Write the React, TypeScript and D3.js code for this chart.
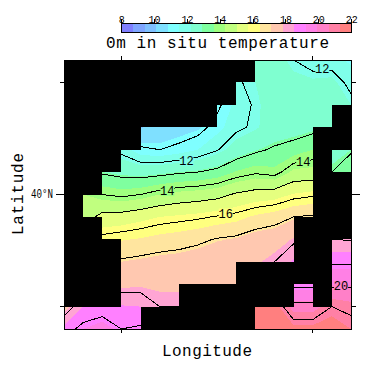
import React from "react";
import * as d3 from "d3";

const titleText = "0m in situ temperature";
const xLabel = "Longitude";
const yLabel = "Latitude";
const yTickText = "40°N";
const barTicks = [8, 10, 12, 14, 16, 18, 20, 22];
const levelStart = 8;
const levelStep = 0.7;
const bandColors = [
  "#7f7fff", "#7fa5ff", "#7fc0ff", "#7fe0ff", "#7fffff", "#7fffea", "#7fffd0", "#7fff9f", "#9fff7f", "#c0ff7f",
  "#e5ff7f", "#ffff7f", "#ffe59f", "#ffc8b0", "#ffa5d4", "#ff80ff", "#ff80e5", "#ff80c8", "#ff80a5", "#ff7f7f",
];
const lineLevels = [11, 12, 13, 14, 15, 16, 17, 18, 19, 20, 21];

// temperature at grid nodes, 13 rows north to south, 16 columns west to east
const temperature = [
  [10, 10, 10, 10, 10, 10, 10, 10, 10.5, 11.5, 12.4, 12.5, 12.0, 11.7, 11.7, 11.4],
  [10, 10, 10, 10, 10, 10, 10, 10, 10.5, 11.9, 12.2, 12.5, 12.4, 12.3, 12.35, 11.8],
  [10, 10, 10, 10, 10, 10, 10, 10, 10.8, 11.7, 12.08, 12.5, 12.5, 12.5, 12.5, 12.2],
  [10, 10, 10, 10, 10.05, 10.3, 10.5, 10.7, 11.3, 11.85, 12.12, 12.5, 12.6, 12.75, 12.6, 12.5],
  [11, 11, 12, 11.8, 11.15, 11, 11.2, 11.5, 11.95, 12.5, 12.85, 13.1, 13.3, 13.6, 12.7, 12.9],
  [12, 12.4, 12.9, 12.75, 12.65, 12.75, 12.9, 13, 13.2, 13.65, 13.9, 13.75, 14.45, 14.5, 13, 13.5],
  [14, 14.3, 14, 13.85, 14, 14.3, 14.5, 14.6, 14.75, 15.1, 15.3, 15.4, 15.75, 15.9, 15, 15],
  [14.6, 14.6, 15.25, 15.3, 15.5, 15.7, 15.8, 15.9, 16.05, 16.2, 16.5, 16.7, 17, 17.1, 17, 17],
  [16, 16, 16.2, 16.35, 16.45, 16.6, 16.7, 16.85, 17.05, 17.15, 17.4, 17.5, 17.85, 18, 18, 17.95],
  [17, 17, 16.8, 17.1, 17.2, 17.3, 17.35, 17.45, 17.55, 17.6, 17.7, 18, 18.6, 18.7, 18.9, 18.9],
  [17.5, 17.5, 17.5, 17.65, 17.7, 17.7, 17.7, 17.75, 17.75, 17.8, 17.8, 18.1, 18.8, 18.8, 19.85, 19.85],
  [17.5, 18.5, 18.6, 18.55, 18.5, 18, 18, 18, 18, 19, 21.6, 21.6, 20.3, 20.3, 21, 20.8],
  [18.7, 19.2, 19.5, 19, 19.1, 18.4, 18, 18, 18, 19, 21.8, 21.7, 21.5, 21.5, 21.7, 21.3],
];

// which cells hold data: first and last column of each lit run, per row
const litRuns = [
  [[10, 14]],
  [[9, 14]],
  [[8, 13]],
  [[4, 12]],
  [[3, 12], [14, 14]],
  [[2, 12]],
  [[1, 12]],
  [[2, 11]],
  [[3, 11], [14, 14]],
  [[3, 8], [14, 14]],
  [[3, 5], [12, 12], [14, 14]],
  [[0, 3], [10, 14]],
];

const contourLabels = [
  { text: "12", lon: 6.4, lat: 4.5, value: 12 },
  { text: "14", lon: 5.4, lat: 5.85, value: 14 },
  { text: "14", lon: 12.5, lat: 4.55, value: 14 },
  { text: "16", lon: 8.45, lat: 6.85, value: 16 },
  { text: "12", lon: 13.5, lat: 0.42, value: 12 },
  { text: "20", lon: 14.48, lat: 10.08, value: 20 },
];

const left = 64, right = 351, top = 60, bottom = 329;
const nCols = 15, nRows = 12;
const sx = d3.scaleLinear().domain([0, nCols]).range([left, right]);
const sy = d3.scaleLinear().domain([0, nRows]).range([top, bottom]);
const barScale = d3.scaleLinear().domain([8, 22]).range([121.7, 351.7]);

const flat = temperature.flat();
const levels = bandColors.map((_, i) => levelStart + i * levelStep);
const gridPath = d3.geoPath(
  d3.geoTransform({
    point(x, y) {
      this.stream.point(sx(x - 0.5), sy(y - 0.5));
    },
  })
);
const contourGen = d3.contours().size([16, 13]).smooth(true);
const bandShapes = levels.map((l, i) => ({ color: bandColors[i], d: gridPath(contourGen.contour(flat, i === 0 ? -1 : l)) || "" }));
const lineShapes = lineLevels.map((l) => gridPath(contourGen.contour(flat, l)) || "");

function colorOf(v: number) {
  const i = Math.floor((v - levelStart) / levelStep);
  return bandColors[Math.max(0, Math.min(bandColors.length - 1, i))];
}

const mono = "'Liberation Mono', monospace";
const majorY = [1, 6, 11];

export default function App() {
  return (
    <svg
      width={387}
      height={374}
      style={{ position: "absolute", left: 0, top: 0, background: "#fff" }}
      fontFamily={mono}
    >
      <defs>
        <clipPath id="plot">
          <rect x={left} y={top} width={right - left} height={bottom - top} />
        </clipPath>
      </defs>

      {/* colour bar */}
      <g shapeRendering="crispEdges">
        {bandColors.map((c, i) => (
          <rect
            key={i}
            x={barScale(levelStart + i * levelStep)}
            y={23}
            width={barScale(levelStep + 8) - barScale(8) + 0.5}
            height={9}
            fill={c}
          />
        ))}
        <rect x={barScale(8)} y={23} width={barScale(22) - barScale(8)} height={9} fill="none" stroke="#000" />
        {barTicks.map((t) => (
          <line key={t} x1={barScale(t)} x2={barScale(t)} y1={19} y2={23} stroke="#000" />
        ))}
      </g>
      {barTicks.map((t) => (
        <text key={t} x={barScale(t)} y={23} fontSize={10} textAnchor="middle" fill="#000">
          {t}
        </text>
      ))}

      <text x={106} y={48} fontSize={16} textLength={223} lengthAdjust="spacing" fill="#000">
        {titleText}
      </text>

      {/* field */}
      <g clipPath="url(#plot)" shapeRendering="crispEdges">
        {bandShapes.map((b, i) => (
          <path key={i} d={b.d} fill={b.color} />
        ))}
        {lineShapes.map((d, i) => (
          <path key={i} d={d} fill="none" stroke="#000" strokeWidth={1} />
        ))}
        <rect x={left} y={top} width={right - left} height={bottom - top} fill="#000" mask="url(#landMask)" />
      </g>
      <mask id="landMask" maskUnits="userSpaceOnUse" x={0} y={0} width={387} height={374}>
        <rect x={0} y={0} width={387} height={374} fill="#fff" />
        <g shapeRendering="crispEdges">
          {litRuns.flatMap((runs, r) =>
            runs.map(([a, b], k) => (
              <rect key={`${r}-${k}`} x={sx(a)} y={sy(r)} width={sx(b + 1) - sx(a)} height={sy(r + 1) - sy(r)} fill="#000" />
            ))
          )}
        </g>
      </mask>

      {/* contour labels */}
      {contourLabels.map((l, i) => (
        <g key={i}>
          <rect
            x={sx(l.lon) - 7}
            y={sy(l.lat) - 5}
            width={14}
            height={10}
            fill={colorOf(l.value)}
          />
          <text x={sx(l.lon)} y={sy(l.lat) + 4} fontSize={12} textAnchor="middle" fill="#000">
            {l.text}
          </text>
        </g>
      ))}

      {/* frame and ticks */}
      <g shapeRendering="crispEdges" stroke="#000">
        <rect x={left} y={top} width={right - left} height={bottom - top} fill="none" />
        {[3, 13].map((c) => (
          <g key={c}>
            <line x1={sx(c)} x2={sx(c)} y1={56} y2={top} />
            <line x1={sx(c)} x2={sx(c)} y1={bottom} y2={333} />
          </g>
        ))}
        {majorY.map((r) => {
          const len = r === 6 ? 8 : 4;
          const len2 = r === 6 ? 9 : 5;
          return (
            <g key={r}>
              <line x1={left - len} x2={left} y1={sy(r)} y2={sy(r)} />
              <line x1={right} x2={right + len2} y1={sy(r)} y2={sy(r)} />
            </g>
          );
        })}
      </g>

      <text x={31} y={198} fontSize={12} textLength={22} lengthAdjust="spacingAndGlyphs" fill="#000">
        {yTickText}
      </text>
      <text
        transform="translate(23,235) rotate(-90)"
        fontSize={16}
        textLength={82}
        lengthAdjust="spacing"
        fill="#000"
      >
        {yLabel}
      </text>
      <text x={162} y={356} fontSize={16} textLength={90} lengthAdjust="spacing" fill="#000">
        {xLabel}
      </text>
    </svg>
  );
}
